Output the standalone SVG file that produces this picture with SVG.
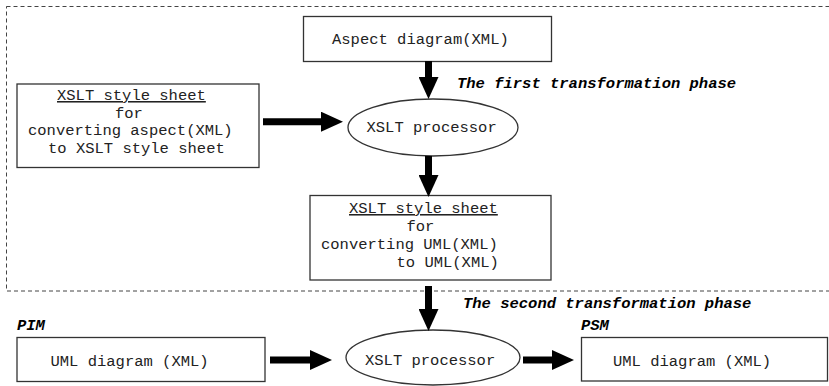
<svg xmlns="http://www.w3.org/2000/svg" width="829" height="386" viewBox="0 0 829 386">
  <defs>
    <style>
      .box { fill: #fff; stroke: #333; stroke-width: 1.3; }
      .frame { fill: none; stroke: #444; stroke-width: 1; stroke-dasharray: 4 3; }
      .txt { font-family: "Liberation Mono", "Courier New", monospace; font-size: 15.5px; fill: #222; }
      .lbl { font-family: "Liberation Mono", "Courier New", monospace; font-size: 15.5px; font-weight: bold; font-style: italic; fill: #000; }
      .u { text-decoration: underline; }
      .shaft { stroke: #000; stroke-width: 7; fill: none; }
    </style>
    <marker id="head" viewBox="0 0 22 20" markerWidth="22" markerHeight="20" refX="0" refY="10" orient="auto" markerUnits="userSpaceOnUse">
      <path d="M0,0 L22,10 L0,20 Z" fill="#000"/>
    </marker>
  </defs>

  <!-- first transformation phase boundary -->
  <rect class="frame" x="6.5" y="6.5" width="840" height="284.5"/>

  <g id="aspect-diagram">
    <rect class="box" x="303.5" y="16.5" width="248" height="45"/>
    <text class="txt" x="332" y="44">Aspect diagram(XML)</text>
  </g>

  <g id="xslt-sheet-aspect">
    <rect class="box" x="17" y="84" width="242" height="83.5"/>
    <text class="txt u" x="57" y="100">XSLT style sheet</text>
    <text class="txt" x="115" y="117.5">for</text>
    <text class="txt" x="28" y="135">converting aspect(XML)</text>
    <text class="txt" x="48" y="153">to XSLT style sheet</text>
  </g>

  <g id="xslt-processor-1">
    <ellipse class="box" cx="433" cy="127.5" rx="85" ry="28.5"/>
    <text class="txt" x="366.5" y="132">XSLT processor</text>
  </g>

  <g id="xslt-sheet-uml">
    <rect class="box" x="310" y="195.5" width="241" height="84.5"/>
    <text class="txt u" x="349" y="213">XSLT style sheet</text>
    <text class="txt" x="406.5" y="230.5">for</text>
    <text class="txt" x="321" y="249">converting UML(XML)</text>
    <text class="txt" x="396.5" y="267">to UML(XML)</text>
  </g>

  <g id="pim">
    <text class="lbl" x="17" y="330">PIM</text>
    <rect class="box" x="17" y="337.5" width="248" height="44"/>
    <text class="txt" x="50.5" y="366">UML diagram (XML)</text>
  </g>

  <g id="xslt-processor-2">
    <ellipse class="box" cx="433" cy="357.5" rx="87" ry="27.5"/>
    <text class="txt" x="365" y="365">XSLT processor</text>
  </g>

  <g id="psm">
    <text class="lbl" x="581" y="330">PSM</text>
    <rect class="box" x="581.5" y="337.5" width="246" height="43.5"/>
    <text class="txt" x="613" y="366">UML diagram (XML)</text>
  </g>

  <g id="phase-labels">
    <text class="lbl" x="457" y="88">The first transformation phase</text>
    <text class="lbl" x="463" y="308">The second transformation phase</text>
  </g>

  <g id="connectors">
    <line class="shaft" x1="428.5" y1="61" x2="428.5" y2="77" marker-end="url(#head)"/>
    <line class="shaft" x1="263" y1="121.7" x2="321" y2="121.7" marker-end="url(#head)"/>
    <line class="shaft" x1="428.5" y1="156" x2="428.5" y2="175" marker-end="url(#head)"/>
    <line class="shaft" x1="428.5" y1="286" x2="428.5" y2="309" marker-end="url(#head)"/>
    <line class="shaft" x1="270" y1="360" x2="310" y2="360" marker-end="url(#head)"/>
    <line class="shaft" x1="523" y1="360" x2="552" y2="360" marker-end="url(#head)"/>
  </g>
</svg>
